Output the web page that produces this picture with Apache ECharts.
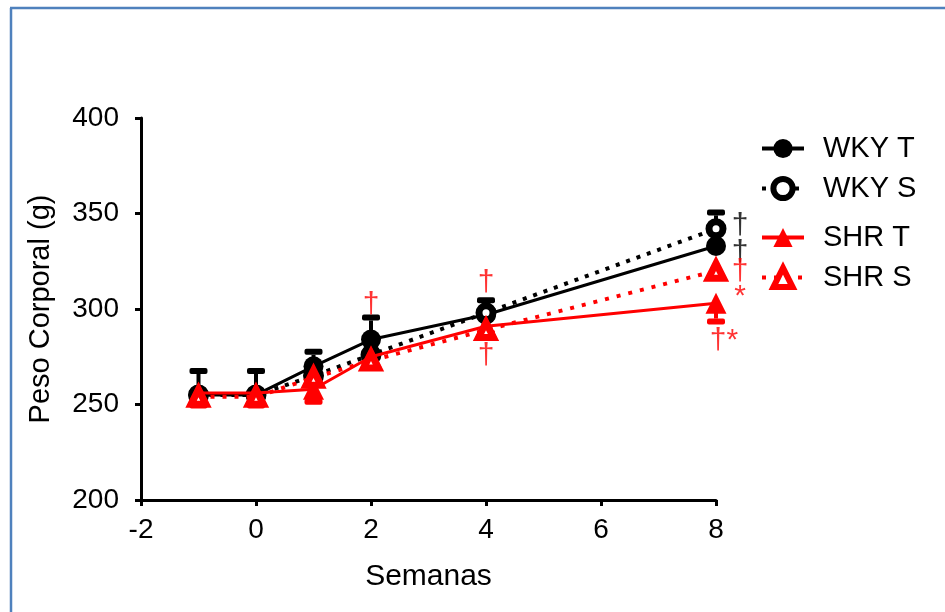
<!DOCTYPE html>
<html><head><meta charset="utf-8">
<script src="https://cdn.jsdelivr.net/npm/echarts@6/dist/echarts.min.js"></script>
<style>html,body{margin:0;padding:0;background:#fff}#c{width:945px;height:612px}</style>
</head><body><div id="c"></div>
<script>
var weeks = [-1, 0, 1, 2, 4, 8];
var wkyT = [255, 255, 270, 284, 297, 333];
var wkyTErr = [11, 11, 6, 10, 6, 0];
var wkyS = [255, 255, 265, 276, 298, 342];
var wkySErr = [0, 0, 0, 0, 0, 7];
var shrT = [256, 256, 258, 275, 291, 303];
var shrTErr = [5, 5, 5, 3, 2, 8];
var shrS = [254, 254, 264, 273, 289, 320];
var shrSErr = [0, 0, 0, 0, 0, 2];
var xTicks = [-2, 0, 2, 4, 6, 8];
var yTicks = [200, 250, 300, 350, 400];
var annotations = [
  {x: 2, y: 302, t: '†', c: '#ff0000'},
  {x: 4, y: 313.5, t: '†', c: '#ff0000'},
  {x: 4, y: 275.5, t: '†', c: '#ff0000'},
  {x: 8.42, y: 343.5, t: '†', c: '#000000'},
  {x: 8.42, y: 329.5, t: '†', c: '#000000'},
  {x: 8.42, y: 319.5, t: '†', c: '#ff0000'},
  {x: 8.42, y: 306.5, t: '*', c: '#ff0000'},
  {x: 8.14, y: 283.5, t: '†*', c: '#ff0000'}
];
var FONT = 'Liberation Sans, Arial, sans-serif';

function pairs(v){ return weeks.map(function(w,i){ return [w, v[i]]; }); }
function errData(v, e, dir){ return weeks.map(function(w,i){ return [w, v[i], v[i] + dir*e[i]]; }).filter(function(d){ return d[1]!==d[2]; }); }
function errSeries(name, v, e, dir, color, z){
  return {
    type: 'custom', name: name + ' err', z: z, silent: true,
    data: errData(v, e, dir),
    renderItem: function(params, api){
      var p0 = api.coord([api.value(0), api.value(1)]);
      var p1 = api.coord([api.value(0), api.value(2)]);
      var hw = 9;
      return {type: 'group', children: [
        {type: 'line', shape: {x1: p0[0], y1: p0[1], x2: p1[0], y2: p1[1]}, style: {stroke: color, lineWidth: 4}},
        {type: 'rect', shape: {x: p1[0]-hw, y: p1[1] - (dir>0?6:0), width: 2*hw, height: 6, r: 2}, style: {fill: color}}
      ]};
    }
  };
}

var chart = echarts.init(document.getElementById('c'), null, {renderer: 'canvas'});
var legendTops = [129, 169, 218, 258];
var names = ['WKY T', 'WKY S', 'SHR T', 'SHR S'];
var openItem = {'WKY S': true, 'SHR S': true};
chart.setOption({
  backgroundColor: '#ffffff',
  animation: false,
  textStyle: {fontFamily: FONT},
  grid: {left: 141, right: 229, top: 118, bottom: 112},
  legend: names.map(function(n, i){
    var d = openItem[n] ? {name: n, itemStyle: {borderWidth: 6}} : {name: n};
    return {data: [d], left: 755, top: legendTops[i], itemWidth: 42, itemHeight: 24, itemGap: 0,
      lineStyle: {width: 4},
      textStyle: {fontSize: 29, color: '#000', fontFamily: FONT, padding: [0,0,0,14]}, selectedMode: false};
  }),
  xAxis: {
    type: 'value', min: -2, max: 8, interval: 2,
    name: 'Semanas', nameLocation: 'middle', nameGap: 62,
    nameTextStyle: {fontSize: 30, color: '#000', fontFamily: FONT},
    axisLine: {onZero: false, lineStyle: {color: '#000', width: 3}},
    axisTick: {show: true, length: 6, lineStyle: {color: '#000', width: 3}},
    axisLabel: {fontSize: 28, color: '#000', margin: 16, fontFamily: FONT},
    splitLine: {show: false}
  },
  yAxis: {
    type: 'value', min: 200, max: 400, interval: 50,
    name: 'Peso Corporal (g)', nameLocation: 'middle', nameGap: 86,
    nameTextStyle: {fontSize: 29, color: '#000', fontFamily: FONT},
    axisLine: {show: true, onZero: false, lineStyle: {color: '#000', width: 3}},
    axisTick: {show: true, length: 6, lineStyle: {color: '#000', width: 3}},
    axisLabel: {fontSize: 28, color: '#000', margin: 22, fontFamily: FONT},
    splitLine: {show: false}
  },
  series: [
    errSeries('WKY T', wkyT, wkyTErr, 1, '#000', 2),
    errSeries('WKY S', wkyS, wkySErr, 1, '#000', 2),
    {name: 'WKY T', type: 'line', data: pairs(wkyT), z: 3, symbol: 'circle', symbolSize: 20,
      lineStyle: {color: '#000', width: 3}, itemStyle: {color: '#000'}},
    {name: 'WKY S', type: 'line', data: pairs(wkyS), z: 3, symbol: 'circle', symbolSize: 14,
      lineStyle: {color: '#000', width: 4, type: [4, 7]}, itemStyle: {color: '#fff', borderColor: '#000', borderWidth: 7}},
    errSeries('SHR T', shrT, shrTErr, -1, '#ff0000', 4),
    errSeries('SHR S', shrS, shrSErr, -1, '#ff0000', 4),
    {name: 'SHR T', type: 'line', data: pairs(shrT), z: 5, symbol: 'triangle', symbolSize: 21,
      lineStyle: {color: '#ff0000', width: 3}, itemStyle: {color: '#ff0000'}},
    {name: 'SHR S', type: 'line', data: pairs(shrS), z: 5, symbol: 'triangle', symbolSize: 15,
      lineStyle: {color: '#ff0000', width: 4, type: [4, 8]}, itemStyle: {color: '#fff', borderColor: '#ff0000', borderWidth: 7}},
    {type: 'scatter', z: 6, silent: true, symbolSize: 0, clip: false,
      data: annotations.map(function(a){ return {value: [a.x, a.y], label: {show: true, formatter: a.t, color: a.c, fontSize: 30, fontFamily: FONT, position: 'inside'}}; })}
  ],
  graphic: [
    {type: 'line', shape: {x1: 11, y1: 8, x2: 11, y2: 612}, style: {stroke: '#4F81BD', lineWidth: 2.5}},
    {type: 'line', shape: {x1: 10, y1: 8, x2: 945, y2: 8}, style: {stroke: '#4F81BD', lineWidth: 2.5}}
  ]
});
</script>
</body></html>
